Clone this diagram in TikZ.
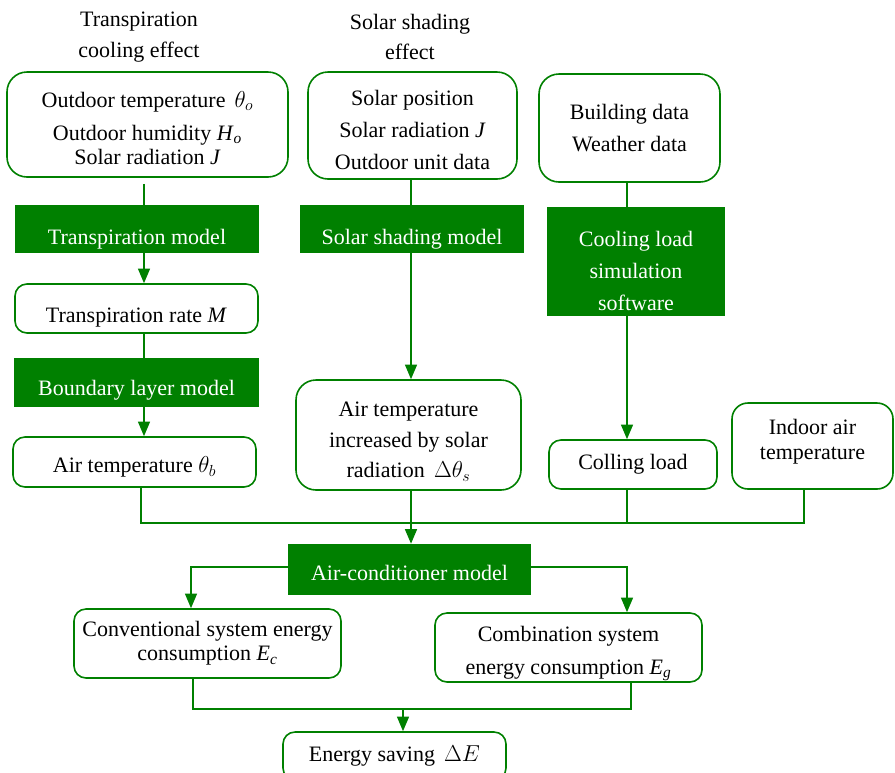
\documentclass[tikz,border=0pt]{standalone}
\usepackage{fontspec}
\setmainfont{Liberation Serif}
\usetikzlibrary{arrows.meta}
\definecolor{gr}{RGB}{0,128,0}
\begin{document}
\begin{tikzpicture}[x=0.75pt,y=-0.75pt,
  every node/.style={font=\fontsize{16.5}{24}\selectfont, inner sep=0pt, align=center},
  rbox/.style={draw=gr, line width=1.2pt, rounded corners=9pt, fill=white, text=black},
  bigr/.style={rounded corners=15pt},
  gbox/.style={fill=gr, text=white},
  wt/.style={text=white},
  line/.style={draw=gr, line width=1.2pt},
  arr/.style={line, -{Triangle[length=11pt,width=9pt]}},
  sz/.style 2 args={minimum width=#1*0.75pt, minimum height=#2*0.75pt}
]
\useasboundingbox (0,0) rectangle (895,772);

% titles
\node[font=\fontsize{16.5}{23}\selectfont] (t1) at (139,37) {Transpiration\\cooling effect};
\node[font=\fontsize{16.5}{23}\selectfont] (t2) at (410,37) {Solar shading\\effect};

% left column
\node[rbox, bigr, sz={281}{105},
  label={[font=\fontsize{16.5}{18}\selectfont, yshift=-2.6pt]center:{Outdoor temperature \,$\theta_o$\\[6.75pt]Outdoor humidity \textit{H}\textsubscript{\textit{o}}\\Solar radiation \textit{J}}}]
  (in1) at (147.5,124.5) {};
\node[gbox, sz={244}{48}, label={[wt, yshift=-7.5pt]center:Transpiration model}] (m1) at (137,229) {};
\node[rbox, sz={243}{49}, label={[yshift=-6.5pt]center:Transpiration rate \textit{M}}] (r1) at (136.5,308.5) {};
\node[gbox, sz={245}{49}, label={[wt, yshift=-6pt]center:Boundary layer model}] (m2) at (136.5,382.5) {};
\node[rbox, sz={243}{50}, label={[yshift=-3.7pt]center:Air temperature $\theta_b$}] (a1) at (134.5,462) {};

% middle column
\node[rbox, bigr, sz={209}{107},
  label={[yshift=-3.7pt]center:{Solar position\\Solar radiation \textit{J}\\Outdoor unit data}}]
  (in2) at (412.5,125.5) {};
\node[gbox, sz={224}{48}, label={[wt, yshift=-7.5pt]center:Solar shading model}] (m3) at (412,229) {};
\node[rbox, bigr, sz={225}{110},
  label={[font=\fontsize{16.5}{23}\selectfont, yshift=-4.9pt]center:{Air temperature\\increased by solar\\radiation \,$\Delta\theta_s$}}]
  (a2) at (408.5,435) {};

% right column
\node[rbox, bigr, sz={181}{108}] (in3) at (629.5,128) {Building data\\Weather data};
\node[gbox, sz={178}{109},
  label={[wt, yshift=-6.8pt]center:{Cooling load\\simulation\\software}}] (m4) at (636,261.5) {};
\node[rbox, sz={168}{49}] (a3) at (633,464.5) {Colling load};
\node[rbox, rounded corners=12pt, sz={161}{86},
  label={[font=\fontsize{16.5}{19}\selectfont, yshift=3pt]center:{Indoor air\\temperature}}]
  (a4) at (812.5,446) {};

% bottom
\node[gbox, sz={243}{51}, label={[wt, yshift=-2.3pt]center:Air-conditioner model}] (ac) at (409.5,569.5) {};
\node[rbox, sz={267}{69}, font=\fontsize{16.5}{18}\selectfont] (c1) at (207.5,643.5)
  {Conventional system energy\\consumption \textit{E}\textsubscript{\textit{c}}};
\node[rbox, sz={267}{69},
  label={[font=\fontsize{16.5}{25}\selectfont, yshift=-4.5pt]center:{Combination system\\energy consumption \textit{E}\textsubscript{\textit{g}}}}]
  (c2) at (568.5,647.5) {};
\node[rbox, sz={223}{48}] (es) at (394.5,756) {Energy saving \,$\Delta E$};

% helper coordinates
\coordinate (xl) at (144,0);
\coordinate (xlb) at (141,0);
\coordinate (xm) at (411,0);
\coordinate (xr) at (627,0);
\coordinate (xi) at (804,0);
\coordinate (xcl) at (191,0);
\coordinate (xcr) at (627,0);
\coordinate (xbl) at (193,0);
\coordinate (xbr) at (631,0);
\coordinate (xe) at (403,0);
\coordinate (yb) at (0,523);
\coordinate (ye) at (0,709);
\coordinate (ya) at (0,567);

% connectors
\draw[line, shorten <=4.5pt] (in1.south -| xl) -- (m1.north -| xl);
\draw[arr] (m1.south -| xl) -- (r1.north -| xl);
\draw[line] (r1.south -| xl) -- (m2.north -| xl);
\draw[arr] (m2.south -| xl) -- (a1.north -| xl);

\draw[line] (in2.south -| xm) -- (m3.north -| xm);
\draw[arr] (m3.south -| xm) -- (a2.north -| xm);

\draw[line] (in3.south -| xr) -- (m4.north -| xr);
\draw[arr] (m4.south -| xr) -- (a3.north -| xr);

\draw[line] (a1.south -| xlb) -- (xlb |- yb) -- (xi |- yb) -- (a4.south -| xi);
\draw[line] (a3.south -| xr) -- (xr |- yb);
\draw[arr] (a2.south -| xm) -- (ac.north -| xm);

\draw[arr] (ac.west |- ya) -| (c1.north -| xcl);
\draw[arr] (ac.east |- ya) -| (c2.north -| xcr);

\draw[line] (c1.south -| xbl) -- (xbl |- ye) -- (xbr |- ye) -- (c2.south -| xbr);
\draw[arr] (xe |- ye) -- (es.north -| xe);
\end{tikzpicture}
\end{document}
